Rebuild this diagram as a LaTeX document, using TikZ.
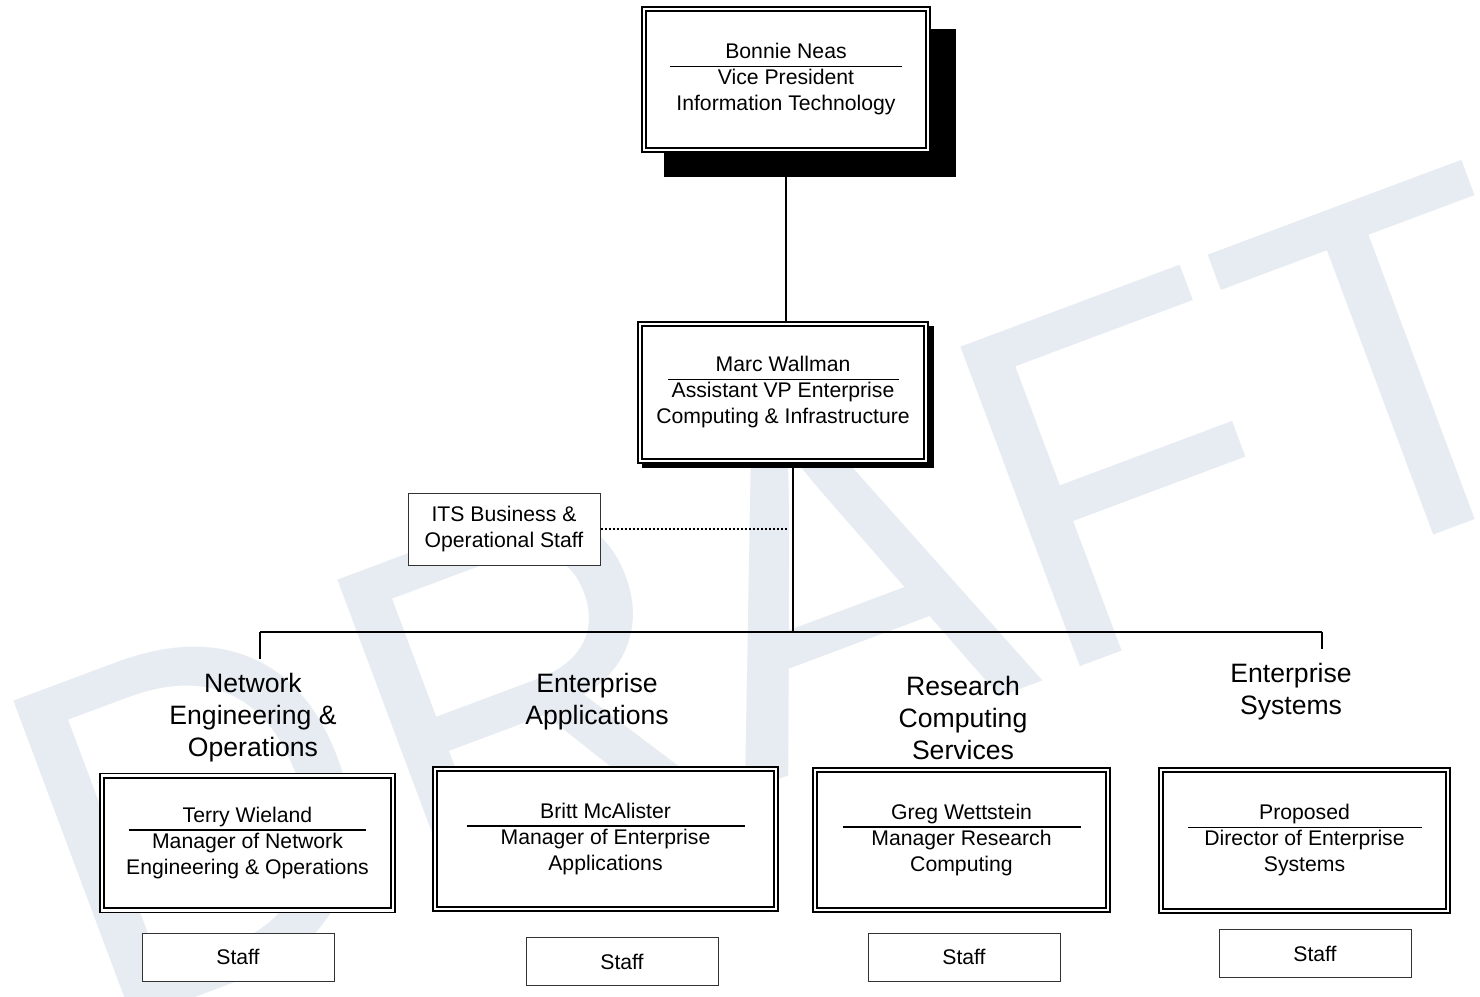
\documentclass[tikz,border=0pt]{standalone}
\usepackage{fontspec}
\setmainfont{Liberation Sans}
\usetikzlibrary{calc,backgrounds}

\definecolor{draftgray}{RGB}{231,236,243}

\tikzset{
  boxtext/.style={font=\fontsize{10.6}{13}\selectfont, align=center},
  mgrbox/.style={boxtext, draw, fill=white, line width=0.75pt, inner sep=0pt},
  staffbox/.style={boxtext, draw=black!80, fill=white, line width=0.5pt,
    minimum width=96pt, minimum height=24pt, inner sep=0pt},
  unitlabel/.style={font=\fontsize{13.3}{16}\selectfont, align=center, inner sep=7pt},
  orgline/.style={line width=0.9pt},
  dotline/.style={line width=1pt, dash pattern=on 1pt off 1pt},
  innerframe/.style={line width=1.2pt},
  watermark/.style={font=\fontsize{248}{248}\selectfont, text=draftgray,
    rotate=20.5, xscale=0.966, anchor=base west, inner sep=0pt},
}

\begin{document}
\begin{tikzpicture}[x=0.5pt,y=0.5pt,yscale=-1,xscale=1]
\useasboundingbox (0,0) rectangle (1480,997);

% Top of the chart
\node[mgrbox, minimum width=144pt, minimum height=72.5pt] (vp) at (786,79.5)
  {Bonnie Neas\\Vice President\\Information Technology};
\node[mgrbox, minimum width=145pt, minimum height=70.5pt] (avp) at (783,392.5)
  {Marc Wallman\\Assistant VP Enterprise\\Computing \& Infrastructure};
\node[staffbox, minimum height=36pt] (its) at (504,529)
  {ITS Business \&\\Operational Staff};

% Unit headings
\node[unitlabel] (netH) at (253,718) {Network\\Engineering \&\\Operations};
\node[unitlabel] (appH) at (597,702) {Enterprise\\Applications};
\node[unitlabel] (resH) at (963,718) {Research\\Computing\\Services};
\node[unitlabel] (sysH) at (1291,692) {Enterprise\\Systems};

% Managers
\node[mgrbox, minimum width=147.5pt, minimum height=69.5pt] (net) at (247.5,843)
  {Terry Wieland\\Manager of Network\\Engineering \& Operations};
\node[mgrbox, minimum width=172.5pt, minimum height=72pt] (app) at (605.5,839)
  {Britt McAlister\\Manager of Enterprise\\Applications};
\node[mgrbox, minimum width=148.5pt, minimum height=72pt] (res) at (961.5,840)
  {Greg Wettstein\\Manager Research\\Computing};
\node[mgrbox, minimum width=145.5pt, minimum height=72.5pt] (sys) at (1304.5,840.5)
  {Proposed\\Director of Enterprise\\Systems};

% Staff
\node[staffbox] (netS) at (238,957) {Staff};
\node[staffbox] (appS) at (622,961.5) {Staff};
\node[staffbox] (resS) at (964,957) {Staff};
\node[staffbox] (sysS) at (1315,953.5) {Staff};

% double frames and name rules
\foreach \n in {vp,avp,net,app,res,sys}
  \draw[innerframe] ($(\n.north west)+(5,5)$) rectangle ($(\n.south east)+(-5,-5)$);
\foreach \n/\w in {vp/232,avp/231,net/237,app/278,res/238,sys/234}
  \draw[line width=0.9pt] ($(\n.center)+(-\w/2,-13)$) -- ($(\n.center)+(\w/2,-13)$);

% watermark and shadows
\begin{pgfonlayer}{background}
  \begin{scope}
    \clip (0,0) rectangle (1480,997);
    \node[watermark] (wm) at (96,1035) {DRAFT};
  \end{scope}
  \fill ($(vp.north west)+(23,23)$) rectangle ($(vp.south east)+(25,24)$);
  \fill ($(avp.north west)+(5,5)$) rectangle ($(avp.south east)+(5,4)$);
\end{pgfonlayer}

% Lines
\coordinate (hub) at (793,632);
\coordinate (bl) at (260,632);
\coordinate (br) at (1322,632);
\draw[orgline] (vp.south) -- (vp.south |- avp.north);
\draw[orgline] (avp.south -| hub) -- (hub);
\draw[orgline] (bl) -- (br);
\draw[orgline] (bl) -- (bl |- netH.north);
\draw[orgline] (br) -- (br |- sysH.north);
\draw[dotline] (its.east) -- ($(its.east -| hub)+(-5,0)$);

\end{tikzpicture}
\end{document}
